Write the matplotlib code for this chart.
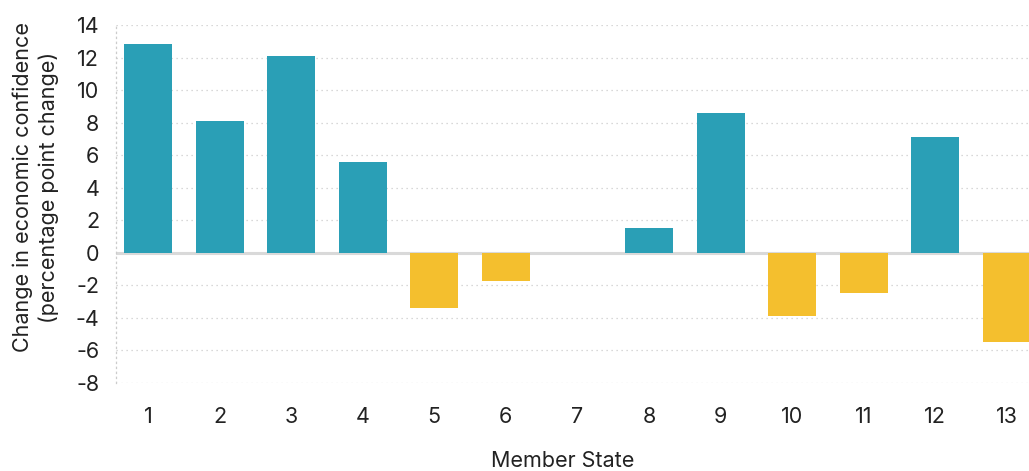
import matplotlib.pyplot as plt

plt.rcParams['font.family'] = ['Inter', 'DejaVu Sans']
plt.rcParams['axes.unicode_minus'] = False

# data
states = ['1', '2', '3', '4', '5', '6', '7', '8', '9', '10', '11', '12', '13']
change = [12.8, 8.1, 12.1, 5.6, -3.4, -1.75, 0.0, 1.5, 8.6, -3.9, -2.45, 7.1, -5.5]

TEAL = '#2a9fb6'
YELLOW = '#f4bf2e'
colors = [TEAL if v >= 0 else YELLOW for v in change]

fig = plt.figure(figsize=(10.29, 4.71), dpi=100)
ax = fig.add_axes([0.1127, 0.187, 0.8873, 0.760])

x = list(range(len(states)))
ax.bar(x, change, width=0.67, color=colors, linewidth=0, zorder=3)

ax.set_xlim(-0.447, len(states) - 1 + 0.31)
ax.set_ylim(-8, 14)
ax.set_yticks(range(-8, 15, 2))
ax.set_xticks(x)
ax.set_xticklabels(states)

ax.grid(axis='y', linestyle=(0, (1, 3)), color='#cccccc', linewidth=0.9, zorder=0)
ax.axhline(0, color='#d9d9d9', linewidth=2.2, zorder=2)

for s in ['top', 'right', 'bottom']:
    ax.spines[s].set_visible(False)
ax.spines['left'].set_linestyle((0, (1, 3)))
ax.spines['left'].set_color('#cccccc')
ax.spines['left'].set_linewidth(0.9)

ax.tick_params(axis='both', length=0, labelsize=15.5, colors='#222222')
ax.tick_params(axis='x', pad=17)
ax.tick_params(axis='y', pad=12)

fig.text(0.035, 0.603, 'Change in economic confidence\n(percentage point change)',
         rotation=90, ha='center', va='center', fontsize=15.5, color='#222222',
         linespacing=1.35)
fig.text(0.547, 0.021, 'Member State', ha='center', va='center', fontsize=15.5,
         color='#222222')

fig.savefig('out.png', dpi=100)
